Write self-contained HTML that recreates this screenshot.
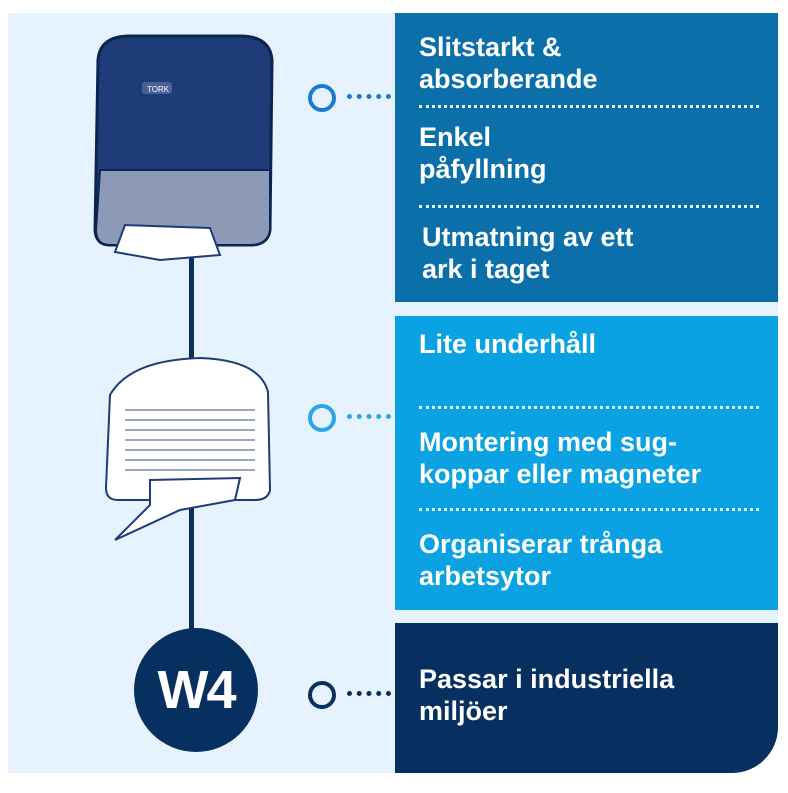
<!DOCTYPE html>
<html><head><style>
body{margin:0;width:788px;height:793px;background:#fff;position:relative;overflow:hidden;font-family:"Liberation Sans",sans-serif}
.bg{position:absolute;left:8px;top:13px;width:770px;height:760px;background:#e6f2fd;border-bottom-right-radius:46px}
.p{position:absolute;left:395px;width:383px;color:#fff;font-weight:bold;font-size:27px;line-height:32px}
.p div{position:absolute;left:24px}
.dl{position:absolute;left:20px;width:340px;border-top:3px dotted rgba(255,255,255,.9)}
.c{position:absolute;width:20px;height:20px;border:4px solid #1c79d0;border-radius:50%}
.dots{position:absolute;border-top:5px dotted #1c79d0;width:44px}
</style></head><body>
<div class="bg"></div>
<div class="p" style="top:13px;height:289px;background:#0b70aa">
<div style="top:18px">Slitstarkt &amp;<br>absorberande</div>
<div class="dl" style="top:92px"></div>
<div style="top:108px">Enkel<br>påfyllning</div>
<div class="dl" style="top:192px"></div>
<div style="top:208px;left:27px">Utmatning av ett<br>ark i taget</div>
</div>
<div class="p" style="top:316px;height:294px;background:#0aa2e2">
<div style="top:12px">Lite underhåll</div>
<div class="dl" style="top:90px"></div>
<div style="top:110px">Montering med sug-<br>koppar eller magneter</div>
<div class="dl" style="top:192px"></div>
<div style="top:212px">Organiserar trånga<br>arbetsytor</div>
</div>
<div class="p" style="top:623px;height:150px;background:#072f60;border-bottom-right-radius:46px">
<div style="top:40px">Passar i industriella<br>miljöer</div>
</div>
<div class="c" style="left:308px;top:84px"></div><div class="dots" style="left:347px;top:94px"></div>
<div class="c" style="left:308px;top:404px;border-color:#2aa6e8"></div><div class="dots" style="left:347px;top:414px;border-color:#2aa6e8"></div>
<div class="c" style="left:308px;top:681px;border-color:#072f60"></div><div class="dots" style="left:347px;top:691px;border-color:#072f60"></div>
<div style="position:absolute;left:189px;top:240px;width:5px;height:400px;background:#072f60"></div>
<div style="position:absolute;left:134px;top:628px;width:124px;height:124px;border-radius:50%;background:#072f60;color:#fff;font-weight:bold;font-size:54px;line-height:124px;text-align:center;letter-spacing:-2px">W4</div>
<svg style="position:absolute;left:0;top:0" width="788" height="793">
<path d="M98 60 Q100 36 130 36 L240 36 Q270 36 272 60 L270 230 Q268 245 250 245 L110 245 Q96 245 95 230 Z" fill="#1d3c78" stroke="#0a2550" stroke-width="3"/>
<path d="M100 170 L270 170 L270 230 Q268 245 250 245 L110 245 Q96 245 96 230 Z" fill="#8c9ab8" stroke="#0a2550" stroke-width="2"/>
<rect x="142" y="82" width="30" height="12" rx="3" fill="#4a6099"/>
<text x="147" y="92" font-size="8" fill="#fff" font-family="Liberation Sans">TORK</text>
<path d="M125 225 L210 228 L220 255 L160 260 L115 252 Z" fill="#fff" stroke="#1d3c78" stroke-width="2"/>
<path d="M110 395 Q130 360 200 358 Q260 360 268 392 L270 490 Q268 500 255 500 L118 500 Q106 500 106 488 Z" fill="#fff" stroke="#1d3c78" stroke-width="2"/>
<g stroke="#9aa8c4" stroke-width="2">
<line x1="125" y1="410" x2="255" y2="410"/><line x1="125" y1="420" x2="255" y2="420"/><line x1="125" y1="430" x2="255" y2="430"/><line x1="125" y1="440" x2="255" y2="440"/><line x1="125" y1="450" x2="255" y2="450"/><line x1="125" y1="460" x2="255" y2="460"/><line x1="125" y1="470" x2="255" y2="470"/></g>
<path d="M150 480 L240 478 L235 500 L180 510 L115 540 L150 505 Z" fill="#fff" stroke="#1d3c78" stroke-width="2"/>
</svg>
</body></html>
